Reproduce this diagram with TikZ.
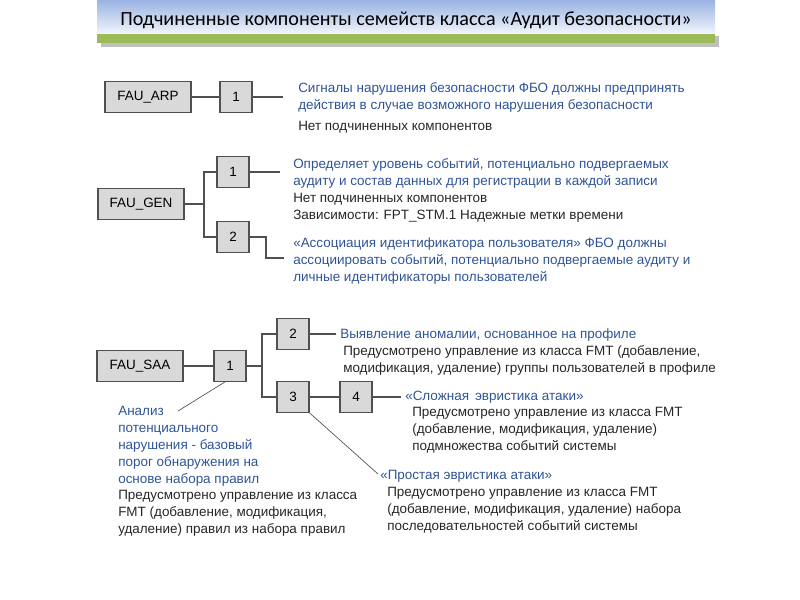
\documentclass[tikz,border=0pt]{standalone}
\usepackage{fontspec}
\setmainfont{Liberation Sans}
\newfontfamily\titlefont{Carlito}
\definecolor{txtblue}{HTML}{2F5496}
\definecolor{boxfill}{HTML}{D9D9D9}
\definecolor{boxline}{HTML}{505050}
\definecolor{lnk}{HTML}{505050}
\definecolor{bannertop}{HTML}{9AB3E2}
\definecolor{bannerbot}{HTML}{F0F4FB}
\definecolor{bargreen}{HTML}{9BBB59}
\begin{document}
\begin{tikzpicture}[x=0.75pt,y=-0.75pt,
  bodyfont/.style={font=\fontsize{10.1}{12.8}\selectfont},
  fam/.style={draw=boxline, fill=boxfill, line width=0.9pt, minimum width=64.5pt, minimum height=23pt, inner sep=0pt, bodyfont},
  comp/.style={draw=boxline, fill=boxfill, line width=0.9pt, minimum width=24pt, minimum height=23pt, inner sep=0pt, bodyfont},
  conn/.style={draw=lnk, line width=0.8pt},
  thin/.style={draw=lnk, line width=0.5pt},
  bluetxt/.style={anchor=north west, inner sep=0pt, align=left, text=txtblue, bodyfont},
  blacktxt/.style={anchor=north west, inner sep=0pt, align=left, text=black!85, bodyfont}]
\useasboundingbox (0,0) rectangle (800,600);
% banner
\fill[black!25] (101,36) rectangle (719,47);
\fill[bargreen] (97,32) rectangle (715,43);
\shade[top color=bannertop, bottom color=bannerbot] (97,0) rectangle (715,33);
\node[font=\titlefont\fontsize{15.1}{16}\selectfont, inner sep=0pt] (title) at (406,20) {Подчиненные компоненты семейств класса «Аудит безопасности»};
% FAU_ARP
\node[fam] (arp) at (148,97) {FAU\_ARP};
\node[comp] (arp1) at (236,97) {1};
\coordinate (arpe) at (283,97);
\draw[conn] (arp) -- (arp1);
\draw[conn] (arp1) -- (arpe);
\node[bluetxt] (arpt) at (298,82) {Сигналы нарушения безопасности ФБО должны предпринять\\действия в случае возможного нарушения безопасности};
\node[blacktxt] (arpn) at (298,121) {Нет подчиненных компонентов};
% FAU_GEN
\node[fam] (gen) at (141,204) {FAU\_GEN};
\node[comp] (gen1) at (233,172) {1};
\node[comp] (gen2) at (233,237) {2};
\coordinate (genb) at (204,204);
\coordinate (gen1e) at (280,172);
\coordinate (gen2k) at (266,237);
\coordinate (gen2e) at (284,258);
\draw[conn] (gen) -- (genb);
\draw[conn] (genb) |- (gen1);
\draw[conn] (genb) |- (gen2);
\draw[conn] (gen1) -- (gen1e);
\draw[conn] (gen2) -- (gen2k) |- (gen2e);
\node[bluetxt] (gent1) at (293,158) {Определяет уровень событий, потенциально подвергаемых\\аудиту и состав данных для регистрации в каждой записи};
\node[blacktxt] (genn1) at (293,193) {Нет подчиненных компонентов\\Зависимости: FPT\_STM.1 Надежные метки времени};
\node[bluetxt] (gent2) at (293,237) {«Ассоциация идентификатора пользователя» ФБО должны\\ассоциировать событий, потенциально подвергаемые аудиту и\\личные идентификаторы пользователей};
% FAU_SAA
\node[fam] (saa) at (140,366) {FAU\_SAA};
\node[comp] (saa1) at (230,366) {1};
\node[comp] (saa2) at (293,334) {2};
\node[comp] (saa3) at (293,397) {3};
\node[comp] (saa4) at (356,397) {4};
\coordinate (saab) at (262,366);
\coordinate (saa2e) at (336,334);
\coordinate (saa4e) at (401,397);
\coordinate (saa1d) at (178,411);
\coordinate (saa3d) at (378,474);
\draw[conn] (saa) -- (saa1);
\draw[conn] (saa1) -- (saab);
\draw[conn] (saab) |- (saa2);
\draw[conn] (saab) |- (saa3);
\draw[conn] (saa3) -- (saa4);
\draw[conn] (saa2) -- (saa2e);
\draw[conn] (saa4) -- (saa4e);
\draw[thin] (saa1.south) ++(-5,0) -- (saa1d);
\draw[thin] (saa3.south east) -- (saa3d);
\node[bluetxt] (saat2) at (340,328) {Выявление аномалии, основанное на профиле};
\node[blacktxt] (saan2) at (343,345) {Предусмотрено управление из класса FMT (добавление,\\модификация, удаление) группы пользователей в профиле};
\node[bluetxt] (saat4) at (405,391) {«Сложная\, эвристика атаки»};
\node[blacktxt] (saan4) at (412,407) {Предусмотрено управление из класса FMT\\(добавление, модификация, удаление)\\подмножества событий системы};
\node[bluetxt] (saat1) at (118,406) {Анализ\\потенциального\\нарушения - базовый\\порог обнаружения на\\основе набора правил};
\node[blacktxt] (saan1) at (118,490) {Предусмотрено управление из класса\\FMT (добавление, модификация,\\удаление) правил из набора правил};
\node[bluetxt] (saat3) at (380,470) {«Простая эвристика атаки»};
\node[blacktxt] (saan3) at (387,487) {Предусмотрено управление из класса FMT\\(добавление, модификация, удаление) набора\\последовательностей событий системы};
\end{tikzpicture}
\end{document}
